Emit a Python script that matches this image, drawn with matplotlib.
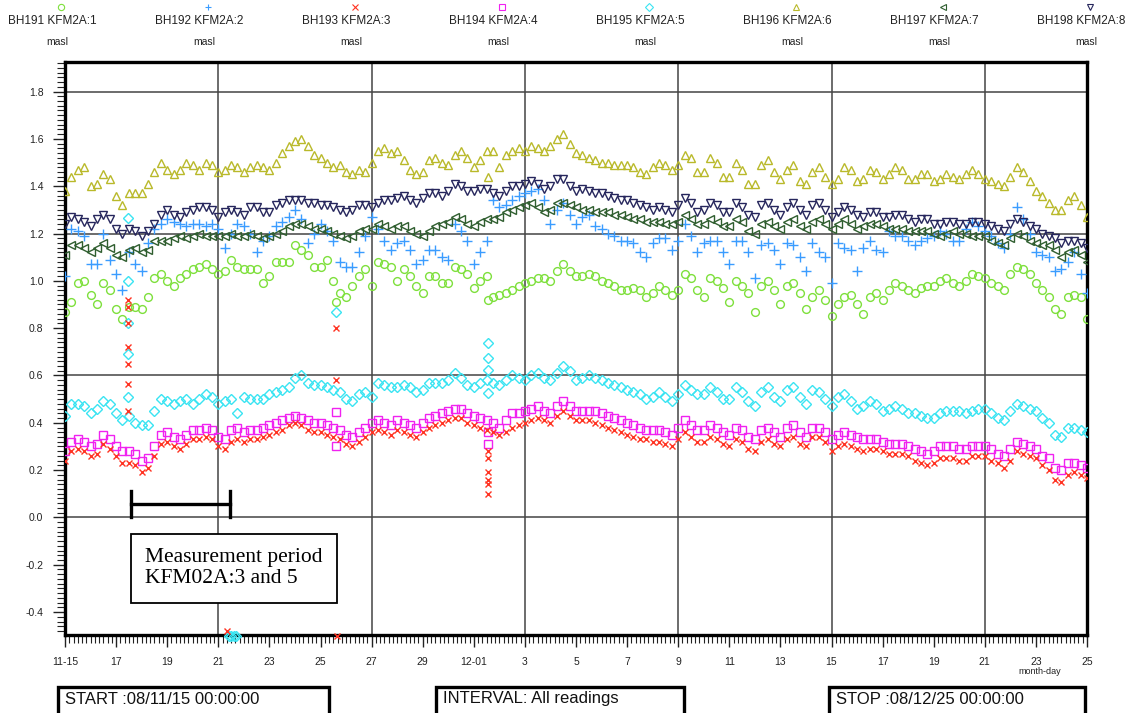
import numpy as np
import matplotlib
matplotlib.use("Agg")
import matplotlib.pyplot as plt
from matplotlib.patches import Rectangle
from matplotlib.ticker import MultipleLocator, FormatStrFormatter

plt.rcParams['font.family'] = ['Liberation Sans', 'DejaVu Sans']
plt.rcParams['axes.unicode_minus'] = False

# ---------------- data (masl), sampled every 6 h from 08-11-15 00:00 ----------------
step_days = 0.25
n_samples = 161

series_names = ["BH191 KFM2A:1", "BH192 KFM2A:2", "BH193 KFM2A:3", "BH194 KFM2A:4",
                "BH195 KFM2A:5", "BH196 KFM2A:6", "BH197 KFM2A:7", "BH198 KFM2A:8"]
series_units = ["masl"] * 8

bh191 = [0.87, 0.91, 0.99, 1.00, 0.94, 0.90, 0.99, 0.96,
         0.88, 0.84, 0.89, 0.89, 0.88, 0.93, 1.01, 1.03,
         1.00, 0.98, 1.01, 1.03, 1.05, 1.06, 1.07, 1.05,
         1.03, 1.04, 1.09, 1.06, 1.05, 1.05, 1.05, 0.99,
         1.02, 1.08, 1.08, 1.08, 1.15, 1.13, 1.11, 1.06,
         1.06, 1.09, 1.00, 0.95, 0.93, 0.98, 1.02, 1.05,
         0.98, 1.08, 1.07, 1.06, 1.00, 1.05, 1.02, 0.98,
         0.95, 1.02, 1.02, 0.99, 0.99, 1.06, 1.05, 1.03,
         0.97, 1.00, 1.02, 0.93, 0.94, 0.95, 0.96, 0.98,
         0.99, 1.00, 1.01, 1.01, 1.00, 1.04, 1.07, 1.04,
         1.02, 1.02, 1.03, 1.02, 1.00, 0.99, 0.98, 0.96,
         0.96, 0.97, 0.96, 0.93, 0.95, 0.98, 0.96, 0.94,
         0.96, 1.03, 1.01, 0.96, 0.93, 1.01, 1.00, 0.97,
         0.91, 1.00, 0.98, 0.95, 0.87, 0.98, 1.00, 0.96,
         0.90, 0.98, 0.99, 0.95, 0.88, 0.93, 0.96, 0.92,
         0.85, 0.90, 0.93, 0.94, 0.90, 0.86, 0.93, 0.95,
         0.92, 0.96, 0.99, 0.98, 0.96, 0.95, 0.97, 0.98,
         0.98, 1.00, 1.01, 0.99, 0.98, 1.00, 1.03, 1.02,
         1.01, 0.99, 0.98, 0.96, 1.03, 1.06, 1.05, 1.03,
         0.99, 0.96, 0.93, 0.88, 0.86, 0.93, 0.94, 0.93,
         0.84]

bh192 = [1.02, 1.22, 1.21, 1.19, 1.07, 1.07, 1.20, 1.09,
         1.03, 0.96, 1.12, 1.07, 1.04, 1.16, 1.22, 1.24,
         1.26, 1.25, 1.24, 1.23, 1.24, 1.24, 1.23, 1.24,
         1.22, 1.14, 1.20, 1.24, 1.23, 1.20, 1.12, 1.17,
         1.19, 1.23, 1.25, 1.27, 1.30, 1.26, 1.16, 1.20,
         1.24, 1.21, 1.17, 1.08, 1.06, 1.06, 1.12, 1.19,
         1.27, 1.22, 1.17, 1.13, 1.16, 1.17, 1.13, 1.07,
         1.09, 1.13, 1.13, 1.10, 1.09, 1.24, 1.21, 1.17,
         1.07, 1.12, 1.17, 1.34, 1.31, 1.32, 1.34, 1.36,
         1.37, 1.38, 1.39, 1.34, 1.24, 1.30, 1.33, 1.28,
         1.24, 1.27, 1.28, 1.23, 1.22, 1.20, 1.19, 1.17,
         1.17, 1.16, 1.12, 1.10, 1.16, 1.18, 1.18, 1.13,
         1.17, 1.24, 1.19, 1.12, 1.16, 1.17, 1.17, 1.12,
         1.07, 1.17, 1.17, 1.12, 1.01, 1.15, 1.16, 1.13,
         1.07, 1.16, 1.15, 1.10, 1.04, 1.16, 1.12, 1.10,
         0.99, 1.16, 1.14, 1.13, 1.04, 1.14, 1.17, 1.13,
         1.12, 1.21, 1.19, 1.19, 1.17, 1.15, 1.17, 1.18,
         1.19, 1.21, 1.20, 1.17, 1.17, 1.22, 1.25, 1.23,
         1.21, 1.19, 1.16, 1.14, 1.20, 1.31, 1.26, 1.20,
         1.12, 1.11, 1.10, 1.04, 1.05, 1.08, 1.12, 1.03,
         0.95]

bh193 = [0.24, 0.28, 0.29, 0.28, 0.26, 0.27, 0.31, 0.29,
         0.26, 0.23, 0.23, 0.22, 0.19, 0.21, 0.26, 0.31,
         0.32, 0.30, 0.29, 0.31, 0.33, 0.33, 0.34, 0.33,
         0.30, 0.29, 0.32, 0.33, 0.32, 0.33, 0.33, 0.34,
         0.35, 0.36, 0.37, 0.39, 0.40, 0.39, 0.37, 0.36,
         0.36, 0.35, 0.34, 0.33, 0.31, 0.30, 0.32, 0.34,
         0.36, 0.37, 0.36, 0.35, 0.37, 0.36, 0.35, 0.34,
         0.36, 0.38, 0.39, 0.40, 0.41, 0.42, 0.42, 0.40,
         0.39, 0.38, 0.37, 0.36, 0.35, 0.36, 0.38, 0.39,
         0.40, 0.41, 0.42, 0.41, 0.40, 0.43, 0.45, 0.43,
         0.41, 0.41, 0.41, 0.40, 0.39, 0.38, 0.37, 0.36,
         0.35, 0.34, 0.33, 0.33, 0.32, 0.32, 0.31, 0.30,
         0.33, 0.36, 0.34, 0.32, 0.32, 0.34, 0.33, 0.31,
         0.30, 0.33, 0.32, 0.29, 0.28, 0.32, 0.33, 0.31,
         0.30, 0.33, 0.34, 0.31, 0.30, 0.34, 0.34, 0.32,
         0.28, 0.30, 0.31, 0.30, 0.29, 0.28, 0.29, 0.29,
         0.28, 0.27, 0.27, 0.27, 0.26, 0.24, 0.23, 0.22,
         0.23, 0.25, 0.25, 0.25, 0.24, 0.24, 0.26, 0.26,
         0.26, 0.24, 0.23, 0.21, 0.24, 0.28, 0.27, 0.26,
         0.25, 0.22, 0.20, 0.16, 0.15, 0.18, 0.19, 0.18,
         0.165]

bh194 = [0.28, 0.32, 0.33, 0.32, 0.30, 0.31, 0.35, 0.33,
         0.30, 0.28, 0.28, 0.27, 0.24, 0.25, 0.30, 0.35,
         0.36, 0.34, 0.33, 0.35, 0.37, 0.37, 0.38, 0.37,
         0.34, 0.33, 0.37, 0.38, 0.36, 0.37, 0.37, 0.38,
         0.39, 0.40, 0.41, 0.42, 0.43, 0.42, 0.41, 0.40,
         0.40, 0.39, 0.38, 0.37, 0.35, 0.34, 0.36, 0.38,
         0.40, 0.41, 0.40, 0.39, 0.41, 0.40, 0.39, 0.38,
         0.40, 0.42, 0.43, 0.44, 0.45, 0.46, 0.46, 0.44,
         0.43, 0.42, 0.41, 0.40, 0.38, 0.41, 0.44, 0.44,
         0.45, 0.46, 0.47, 0.45, 0.44, 0.47, 0.49, 0.47,
         0.45, 0.45, 0.45, 0.45, 0.44, 0.43, 0.42, 0.41,
         0.40, 0.39, 0.38, 0.37, 0.37, 0.37, 0.36, 0.35,
         0.38, 0.41, 0.39, 0.37, 0.37, 0.39, 0.38, 0.36,
         0.35, 0.38, 0.37, 0.34, 0.33, 0.37, 0.38, 0.36,
         0.34, 0.38, 0.39, 0.36, 0.34, 0.38, 0.38, 0.36,
         0.33, 0.35, 0.36, 0.35, 0.34, 0.33, 0.33, 0.33,
         0.32, 0.31, 0.31, 0.31, 0.30, 0.29, 0.28, 0.27,
         0.28, 0.30, 0.30, 0.30, 0.29, 0.29, 0.30, 0.30,
         0.30, 0.29, 0.27, 0.26, 0.29, 0.32, 0.31, 0.30,
         0.29, 0.26, 0.25, 0.21, 0.20, 0.23, 0.23, 0.22,
         0.21]

bh195 = [0.43, 0.48, 0.48, 0.47, 0.44, 0.46, 0.49, 0.48,
         0.44, 0.41, 0.43, 0.40, 0.39, 0.39, 0.45, 0.50,
         0.49, 0.48, 0.49, 0.50, 0.48, 0.50, 0.52, 0.51,
         0.48, 0.49, 0.50, 0.44, 0.51, 0.50, 0.50, 0.50,
         0.52, 0.53, 0.54, 0.55, 0.59, 0.60, 0.57, 0.56,
         0.56, 0.55, 0.54, 0.53, 0.50, 0.49, 0.52, 0.53,
         0.51, 0.57, 0.56, 0.55, 0.55, 0.56, 0.55, 0.53,
         0.54, 0.57, 0.57, 0.57, 0.58, 0.61, 0.59, 0.56,
         0.55, 0.57, 0.58, 0.57, 0.56, 0.58, 0.60, 0.59,
         0.58, 0.60, 0.61, 0.59, 0.58, 0.61, 0.64, 0.62,
         0.58, 0.59, 0.60, 0.59, 0.58, 0.57, 0.56, 0.55,
         0.54, 0.53, 0.52, 0.50, 0.51, 0.53, 0.51, 0.49,
         0.52, 0.56, 0.54, 0.52, 0.52, 0.55, 0.53, 0.50,
         0.50, 0.55, 0.53, 0.49, 0.47, 0.53, 0.55, 0.51,
         0.49, 0.54, 0.55, 0.51, 0.48, 0.54, 0.53, 0.50,
         0.47, 0.51, 0.52, 0.49, 0.46, 0.47, 0.49, 0.48,
         0.45, 0.46, 0.47, 0.46, 0.44, 0.44, 0.43, 0.42,
         0.42, 0.44, 0.45, 0.45, 0.45, 0.44, 0.45, 0.46,
         0.46, 0.44, 0.42, 0.41, 0.45, 0.48, 0.47, 0.46,
         0.45, 0.42, 0.40, 0.35, 0.34, 0.38, 0.38, 0.37,
         0.36]

bh196 = [1.38, 1.44, 1.47, 1.48, 1.40, 1.41, 1.45, 1.43,
         1.36, 1.32, 1.37, 1.37, 1.37, 1.41, 1.46, 1.50,
         1.47, 1.45, 1.47, 1.50, 1.49, 1.47, 1.50, 1.49,
         1.46, 1.47, 1.49, 1.48, 1.46, 1.48, 1.49, 1.48,
         1.47, 1.50, 1.54, 1.57, 1.59, 1.60, 1.57, 1.53,
         1.52, 1.50, 1.48, 1.49, 1.46, 1.45, 1.47, 1.46,
         1.50, 1.55, 1.56, 1.54, 1.55, 1.51, 1.47, 1.45,
         1.46, 1.51, 1.52, 1.50, 1.49, 1.53, 1.55, 1.52,
         1.48, 1.51, 1.55, 1.55, 1.48, 1.53, 1.55, 1.56,
         1.55, 1.57, 1.56, 1.55, 1.57, 1.60, 1.62, 1.58,
         1.54, 1.53, 1.52, 1.51, 1.50, 1.50, 1.49, 1.49,
         1.49, 1.48, 1.46, 1.45, 1.48, 1.50, 1.49, 1.47,
         1.49, 1.53, 1.52, 1.46, 1.46, 1.52, 1.50, 1.44,
         1.44, 1.50, 1.47, 1.41, 1.41, 1.49, 1.51, 1.46,
         1.43, 1.47, 1.49, 1.42, 1.41, 1.46, 1.48, 1.44,
         1.41, 1.43, 1.48, 1.47, 1.42, 1.43, 1.47, 1.46,
         1.43, 1.45, 1.48, 1.47, 1.43, 1.43, 1.45, 1.45,
         1.42, 1.43, 1.45, 1.44, 1.43, 1.45, 1.47, 1.45,
         1.43, 1.42, 1.41, 1.40, 1.44, 1.48, 1.46, 1.42,
         1.38, 1.36, 1.33, 1.30, 1.30, 1.34, 1.36, 1.32,
         1.27]

bh197 = [1.11, 1.15, 1.15, 1.14, 1.12, 1.14, 1.16, 1.14,
         1.11, 1.10, 1.13, 1.14, 1.12, 1.13, 1.17, 1.17,
         1.17, 1.18, 1.19, 1.18, 1.19, 1.20, 1.19, 1.19,
         1.19, 1.19, 1.20, 1.19, 1.19, 1.20, 1.19, 1.18,
         1.19, 1.20, 1.21, 1.23, 1.24, 1.24, 1.23, 1.22,
         1.22, 1.21, 1.20, 1.19, 1.18, 1.19, 1.21, 1.22,
         1.22, 1.24, 1.23, 1.22, 1.23, 1.23, 1.21, 1.20,
         1.19, 1.21, 1.23, 1.24, 1.25, 1.27, 1.26, 1.24,
         1.23, 1.25, 1.26, 1.26, 1.27, 1.29, 1.30, 1.31,
         1.32, 1.33, 1.31, 1.29, 1.30, 1.33, 1.33, 1.32,
         1.31, 1.30, 1.30, 1.29, 1.29, 1.29, 1.28, 1.28,
         1.27, 1.26, 1.26, 1.25, 1.25, 1.25, 1.24, 1.24,
         1.25, 1.28, 1.26, 1.24, 1.24, 1.26, 1.25, 1.23,
         1.23, 1.26, 1.25, 1.21, 1.20, 1.24, 1.25, 1.23,
         1.22, 1.25, 1.26, 1.23, 1.22, 1.25, 1.26, 1.24,
         1.22, 1.24, 1.26, 1.24, 1.22, 1.23, 1.24, 1.24,
         1.23, 1.22, 1.22, 1.22, 1.21, 1.21, 1.21, 1.21,
         1.20, 1.19, 1.20, 1.21, 1.20, 1.20, 1.19, 1.19,
         1.19, 1.17, 1.16, 1.15, 1.18, 1.20, 1.19, 1.17,
         1.16, 1.15, 1.15, 1.13, 1.10, 1.12, 1.13, 1.11,
         1.08]

bh198 = [1.24, 1.27, 1.26, 1.25, 1.23, 1.26, 1.28, 1.26,
         1.22, 1.20, 1.22, 1.21, 1.19, 1.21, 1.24, 1.28,
         1.30, 1.28, 1.27, 1.29, 1.30, 1.31, 1.31, 1.30,
         1.27, 1.29, 1.30, 1.29, 1.28, 1.31, 1.31, 1.29,
         1.29, 1.32, 1.33, 1.34, 1.34, 1.34, 1.33, 1.33,
         1.32, 1.32, 1.31, 1.30, 1.29, 1.30, 1.32, 1.32,
         1.31, 1.33, 1.34, 1.34, 1.35, 1.36, 1.34, 1.33,
         1.35, 1.37, 1.37, 1.36, 1.38, 1.41, 1.40, 1.38,
         1.38, 1.39, 1.39, 1.37, 1.36, 1.38, 1.40, 1.40,
         1.41, 1.42, 1.41, 1.39, 1.40, 1.43, 1.43, 1.40,
         1.38, 1.39, 1.38, 1.37, 1.37, 1.36, 1.35, 1.34,
         1.34, 1.33, 1.32, 1.31, 1.30, 1.31, 1.30, 1.29,
         1.32, 1.35, 1.33, 1.29, 1.30, 1.33, 1.32, 1.29,
         1.29, 1.33, 1.31, 1.28, 1.27, 1.32, 1.33, 1.30,
         1.28, 1.31, 1.33, 1.30, 1.28, 1.32, 1.33, 1.30,
         1.27, 1.29, 1.31, 1.30, 1.28, 1.27, 1.29, 1.29,
         1.27, 1.27, 1.28, 1.28, 1.26, 1.25, 1.26, 1.26,
         1.24, 1.24, 1.25, 1.25, 1.24, 1.24, 1.25, 1.25,
         1.24, 1.23, 1.22, 1.21, 1.24, 1.26, 1.25, 1.23,
         1.22, 1.20, 1.19, 1.18, 1.16, 1.17, 1.17, 1.16,
         1.14]

# isolated disturbed readings (day offset, value)
bh191_out_t = [10.6, 16.55]
bh191_out_v = [0.91, 0.92]
bh193_out_t = [2.45, 2.45, 2.45, 2.45, 2.45, 2.45, 2.45, 10.6, 10.6,
               16.55, 16.55, 16.55, 16.55, 16.55, 16.55, 6.35, 10.63]
bh193_out_v = [0.92, 0.89, 0.82, 0.72, 0.65, 0.565, 0.45, 0.80, 0.58,
               0.28, 0.25, 0.19, 0.16, 0.14, 0.10, -0.48, -0.50]
bh194_out_t = [10.6, 10.6, 16.55, 16.55]
bh194_out_v = [0.447, 0.30, 0.36, 0.31]
bh195_out_t = [2.45, 2.45, 2.45, 2.45, 2.45, 10.6, 16.55, 16.55, 16.55, 16.55,
               6.4, 6.5, 6.6, 6.7]
bh195_out_v = [1.265, 1.00, 0.82, 0.69, 0.51, 0.87, 0.736, 0.672, 0.623, 0.524,
               -0.50, -0.50, -0.50, -0.50]
bh196_out_t = [16.55]
bh196_out_v = [1.44]

x_tick_labels = ["11-15", "17", "19", "21", "23", "25", "27", "29", "12-01", "3",
                 "5", "7", "9", "11", "13", "15", "17", "19", "21", "23", "25"]

start_text = "START :08/11/15 00:00:00"
interval_text = "INTERVAL: All readings"
stop_text = "STOP :08/12/25 00:00:00"
note_text = "Measurement period\nKFM02A:3 and 5"
period_start, period_end = 2.59, 6.44   # days after start

# ---------------- styling ----------------
colors = ['#7ee03c', '#3a9cff', '#ff3322', '#f022f0',
          '#3ae4f2', '#b9b92a', '#2f5e2f', '#26265c']
markers = ['o', '+', 'x', 's', 'D', '^', '<', 'v']
msizes = [5.6, 6.8, 5.0, 5.3, 4.8, 5.8, 5.6, 5.6]

W, H = 1129, 713
fig = plt.figure(figsize=(W / 100, H / 100), dpi=100)
ax = fig.add_axes([65 / W, 1 - 635 / H, (1087 - 65) / W, (635 - 62) / H])

t = np.arange(n_samples) * step_days
data = [bh191, bh192, bh193, bh194, bh195, bh196, bh197, bh198]
outs = {0: (bh191_out_t, bh191_out_v), 2: (bh193_out_t, bh193_out_v),
        3: (bh194_out_t, bh194_out_v), 4: (bh195_out_t, bh195_out_v),
        5: (bh196_out_t, bh196_out_v)}

order = [0, 1, 4, 3, 2, 5, 6, 7]
for i in order:
    c = colors[i]
    kw = dict(ls='none', marker=markers[i], ms=msizes[i], mec=c,
              mfc='none', mew=1.0, zorder=3)
    ax.plot(t, data[i], **kw)
    if i in outs:
        ot, ovv = outs[i]
        ax.plot(ot, ovv, clip_on=False, **kw)

ax.set_xlim(0, 40)
ax.set_ylim(-0.497, 1.925)

ax.set_xticks(np.arange(0, 41, 2))
ax.set_xticklabels(x_tick_labels)
ax.xaxis.set_minor_locator(MultipleLocator(1 / 6))
ax.yaxis.set_major_locator(MultipleLocator(0.2))
ax.yaxis.set_minor_locator(MultipleLocator(0.02))
ax.yaxis.set_major_formatter(FormatStrFormatter('%.1f'))

ax.tick_params(axis='both', which='major', direction='out', length=8.5,
               width=1.0, labelsize=7.5, color='#222222', labelcolor='#222222')
ax.tick_params(axis='both', which='minor', direction='out', length=5.5,
               width=0.8, color='#222222')
ax.tick_params(axis='x', which='major', pad=7)
ax.tick_params(axis='y', which='major', pad=7)

for s in ax.spines.values():
    s.set_linewidth(2.4)
    s.set_color('black')

for gx in [6, 12, 18, 24, 30, 36]:
    ax.axvline(gx, color='#444444', lw=1.1, zorder=1)
for gy in [0.0, 0.6, 1.2, 1.8]:
    ax.axhline(gy, color='#444444', lw=1.1, zorder=1)

# measurement-period bracket
ax.plot([period_start, period_end], [0.055, 0.055], color='black', lw=2.4, zorder=4)
ax.plot([period_start, period_start], [0.0, 0.11], color='black', lw=2.4, zorder=4)
ax.plot([period_end, period_end], [0.0, 0.11], color='black', lw=2.4, zorder=4)

# note box
ax.add_patch(Rectangle((period_start, -0.36), 8.04, 0.29, facecolor='white',
                       edgecolor='black', lw=1.3, zorder=5))
ax.text(period_start + 0.55, -0.215, note_text, fontsize=15.5,
        family=['Liberation Serif', 'DejaVu Serif'], ha='left', va='center',
        linespacing=1.12, zorder=6)

# ---------------- overlay in pixel coordinates ----------------
ov = fig.add_axes([0, 0, 1, 1], facecolor='none')
ov.set_xlim(0, W)
ov.set_ylim(H, 0)
ov.axis('off')

for i, name in enumerate(series_names):
    cx = 52 + 147.0 * i
    ov.plot([cx + 9], [7], ls='none', marker=markers[i], ms=4.5, mec=colors[i],
            mfc='none', mew=0.8, clip_on=False)
    ov.text(cx, 21, name, fontsize=8.5, ha='center', va='center', color='#222222')
    ov.text(cx + 5, 42, series_units[i], fontsize=7.5, ha='center', va='center',
            color='#222222')

ov.text(1040, 672, "month-day", fontsize=6.5, ha='center', va='center', color='#222222')

for (x0, x1, txt) in [(58, 329, start_text), (436, 684, interval_text),
                      (829, 1085, stop_text)]:
    ov.add_patch(Rectangle((x0, 687), x1 - x0, 40, facecolor='white',
                           edgecolor='black', lw=2.4, clip_on=True))
    ov.text(x0 + 7, 699, txt, fontsize=12, ha='left', va='center', color='#111111')

fig.savefig("out.png", dpi=100)
